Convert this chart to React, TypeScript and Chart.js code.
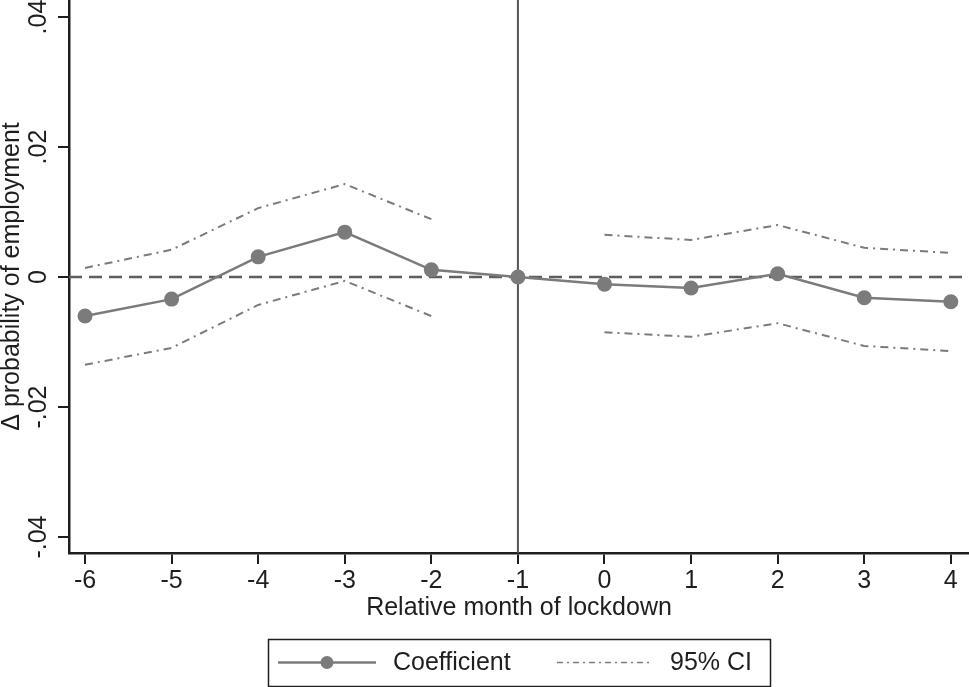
import React, { useEffect, useRef } from 'react';
import { Chart, registerables } from 'chart.js';

Chart.register(...registerables);

// ---- data ----
const months = [-6, -5, -4, -3, -2, -1, 0, 1, 2, 3, 4];
const coefficient = [-0.006, -0.0034, 0.0031, 0.0069, 0.0011, 0, -0.0011, -0.0017, 0.0005, -0.0032, -0.0038];
const ciUpper = [0.0014, 0.0042, 0.0106, 0.0143, 0.0089, null, 0.0065, 0.0057, 0.008, 0.0045, 0.0037];
const ciLower = [-0.0135, -0.0109, -0.0043, -0.0006, -0.006, null, -0.0085, -0.0092, -0.0071, -0.0106, -0.0114];
const xTickValues = [-6, -5, -4, -3, -2, -1, 0, 1, 2, 3, 4];
const yTickValues = [-0.04, -0.02, 0, 0.02, 0.04];
const yTickLabels = ['-.04', '-.02', '0', '.02', '.04'];
const referenceY = 0;
const eventMonth = -1;
const xTitle = 'Relative month of lockdown';
const yTitle = 'Δ probability of employment';
const legendLabels = ['Coefficient', '95% CI'];

const FONT_FAMILY = '"Liberation Sans", Arial, Helvetica, sans-serif';
const FONT_SIZE = 25;
const SERIES_GRAY = '#7b7b7b';
const AXIS_COLOR = '#1e1e1e';
const CI_DASH = [8, 5, 2, 5];

const toPoints = (vals: (number | null)[]) => months.map((m, i) => ({ x: m, y: vals[i] }));

const referenceLinesPlugin = {
  id: 'referenceLines',
  beforeDatasetsDraw(chart: any) {
    const { ctx, chartArea, scales } = chart;
    const y0 = scales.y.getPixelForValue(referenceY);
    const xe = scales.x.getPixelForValue(eventMonth);
    ctx.save();
    // dashed zero line
    ctx.strokeStyle = '#5e5e5e';
    ctx.lineWidth = 2.5;
    ctx.setLineDash([13, 7]);
    ctx.beginPath();
    ctx.moveTo(chartArea.left, y0);
    ctx.lineTo(chartArea.right, y0);
    ctx.stroke();
    // vertical event line
    ctx.setLineDash([]);
    ctx.strokeStyle = '#555555';
    ctx.lineWidth = 2;
    ctx.beginPath();
    ctx.moveTo(xe, chartArea.top);
    ctx.lineTo(xe, chartArea.bottom);
    ctx.stroke();
    ctx.restore();
  },
};

const boxedLegendPlugin = {
  id: 'boxedLegend',
  afterDraw(chart: any) {
    const { ctx } = chart;
    const box = { l: 268, t: 639, r: 770, b: 686 };
    const cy = (box.t + box.b) / 2;
    ctx.save();
    ctx.strokeStyle = AXIS_COLOR;
    ctx.lineWidth = 1.5;
    ctx.strokeRect(box.l + 0.5, box.t + 0.5, box.r - box.l, box.b - box.t);
    // coefficient symbol
    ctx.strokeStyle = SERIES_GRAY;
    ctx.lineWidth = 2.5;
    ctx.beginPath();
    ctx.moveTo(278, cy);
    ctx.lineTo(376, cy);
    ctx.stroke();
    ctx.fillStyle = SERIES_GRAY;
    ctx.beginPath();
    ctx.arc(327, cy, 6.5, 0, Math.PI * 2);
    ctx.fill();
    // CI symbol
    ctx.lineWidth = 1.5;
    ctx.setLineDash([6, 4, 2, 4]);
    ctx.beginPath();
    ctx.moveTo(557, cy);
    ctx.lineTo(649, cy);
    ctx.stroke();
    ctx.setLineDash([]);
    // texts
    ctx.fillStyle = AXIS_COLOR;
    ctx.font = `${FONT_SIZE}px ${FONT_FAMILY}`;
    ctx.textBaseline = 'middle';
    ctx.textAlign = 'left';
    ctx.fillText(legendLabels[0], 393, cy + 1);
    ctx.fillText(legendLabels[1], 670, cy + 1);
    ctx.restore();
  },
};

export default function App() {
  const canvasRef = useRef<HTMLCanvasElement | null>(null);

  useEffect(() => {
    if (!canvasRef.current) return;
    const font = { family: FONT_FAMILY, size: FONT_SIZE };
    const chart = new Chart(canvasRef.current, {
      type: 'line',
      data: {
        datasets: [
          {
            label: legendLabels[0],
            data: toPoints(coefficient) as any,
            borderColor: SERIES_GRAY,
            backgroundColor: SERIES_GRAY,
            borderWidth: 2.5,
            pointRadius: 7.5,
            pointBorderWidth: 0,
            pointBackgroundColor: SERIES_GRAY,
            tension: 0,
            order: 0,
          },
          {
            label: legendLabels[1],
            data: toPoints(ciUpper) as any,
            borderColor: SERIES_GRAY,
            borderWidth: 2,
            borderDash: CI_DASH,
            pointRadius: 0,
            spanGaps: false,
            tension: 0,
            order: 1,
          },
          {
            label: legendLabels[1] + ' lower',
            data: toPoints(ciLower) as any,
            borderColor: SERIES_GRAY,
            borderWidth: 2,
            borderDash: CI_DASH,
            pointRadius: 0,
            spanGaps: false,
            tension: 0,
            order: 1,
          },
        ],
      },
      options: {
        animation: false,
        responsive: true,
        maintainAspectRatio: false,
        layout: { padding: 0, autoPadding: false },
        plugins: {
          legend: { display: false },
          tooltip: { enabled: false },
        },
        scales: {
          x: {
            type: 'linear',
            position: 'bottom',
            min: -6.185,
            max: 4.21,
            afterBuildTicks: (s: any) => {
              s.ticks = xTickValues.map((v) => ({ value: v }));
            },
            afterFit: (s: any) => {
              s.height = 134;
              s.paddingLeft = 0;
              s.paddingRight = 0;
            },
            ticks: {
              font,
              color: AXIS_COLOR,
              padding: 2,
              maxRotation: 0,
              autoSkip: false,
              callback: (v: any) => String(v),
            },
            grid: {
              display: true,
              drawOnChartArea: false,
              drawTicks: true,
              tickLength: 11,
              color: AXIS_COLOR,
              lineWidth: 2,
            },
            border: { display: true, color: AXIS_COLOR, width: 2.5 },
            title: {
              display: true,
              text: xTitle,
              font,
              color: AXIS_COLOR,
              padding: { top: 0, bottom: 64 },
            },
          },
          y: {
            type: 'linear',
            position: 'left',
            min: -0.04246,
            max: 0.04262,
            afterBuildTicks: (s: any) => {
              s.ticks = yTickValues.map((v) => ({ value: v }));
            },
            afterFit: (s: any) => {
              s.width = 69;
              s.paddingTop = 0;
              s.paddingBottom = 0;
            },
            ticks: {
              font,
              color: AXIS_COLOR,
              minRotation: 90,
              maxRotation: 90,
              crossAlign: 'center',
              padding: -2.5,
              autoSkip: false,
              callback: (_v: any, i: number) => yTickLabels[i],
            },
            grid: {
              display: true,
              drawOnChartArea: false,
              drawTicks: true,
              tickLength: 11,
              color: AXIS_COLOR,
              lineWidth: 2,
            },
            border: { display: true, color: AXIS_COLOR, width: 2.5 },
            title: {
              display: true,
              text: yTitle,
              font,
              color: AXIS_COLOR,
              padding: { top: -3, bottom: 0 },
            },
          },
        },
      },
      plugins: [referenceLinesPlugin, boxedLegendPlugin],
    } as any);
    return () => chart.destroy();
  }, []);

  return (
    <div style={{ position: 'absolute', left: 0, top: 0, width: 969, height: 687, background: '#fff' }}>
      <canvas ref={canvasRef} />
    </div>
  );
}
